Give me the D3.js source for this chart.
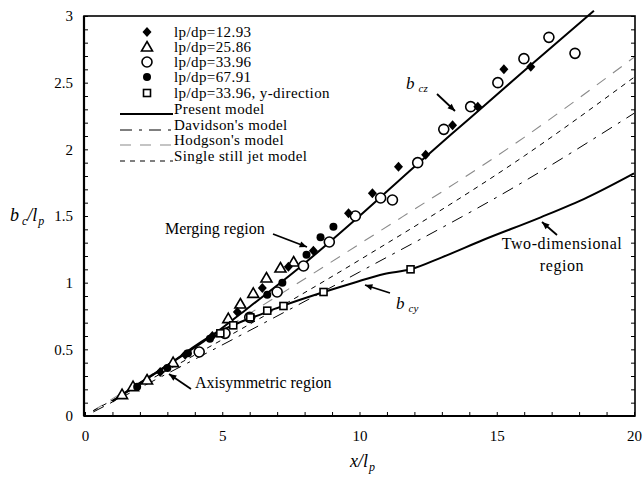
<!DOCTYPE html>
<html><head><meta charset="utf-8">
<script src="https://cdn.jsdelivr.net/npm/d3@7/dist/d3.min.js"></script>
<style>
body{margin:0;background:#fff;}
svg{display:block;}
text{font-family:"Liberation Serif","Times New Roman",serif;fill:#000;}
</style></head>
<body><svg id="c" width="644" height="478"></svg>
<script>
// ---- data ----
const xTickLabels = [0, 5, 10, 15, 20];
const yTickLabels = [0, 0.5, 1, 1.5, 2, 2.5, 3];

const s1293X = [2.74, 3.65, 4.64, 5.55, 6.46, 7.41, 8.32, 9.6, 10.47, 11.42, 12.41, 13.39, 14.31, 15.26, 16.24];
const s1293Y = [0.33, 0.46, 0.60, 0.78, 0.96, 1.12, 1.24, 1.52, 1.67, 1.87, 1.96, 2.18, 2.32, 2.60, 2.62];

const s2586X = [1.35, 1.75, 2.26, 3.21, 5.22, 5.66, 6.13, 6.61, 7.12, 7.6];
const s2586Y = [0.16, 0.22, 0.27, 0.40, 0.73, 0.84, 0.92, 1.035, 1.11, 1.155];

const s3396X = [4.16, 5.1, 6.0, 7.0, 7.96, 8.9, 9.85, 10.77, 11.2, 12.12, 13.07, 14.05, 15.04, 15.99, 16.9, 17.85];
const s3396Y = [0.48, 0.62, 0.74, 0.93, 1.125, 1.305, 1.50, 1.635, 1.62, 1.90, 2.15, 2.32, 2.50, 2.68, 2.84, 2.72];

const s6791X = [1.9, 3.0, 3.75, 4.55, 6.64, 7.19, 8.07, 8.58, 9.05];
const s6791Y = [0.22, 0.36, 0.47, 0.58, 0.91, 1.0, 1.21, 1.34, 1.42];

const sYdirX = [4.93, 5.4, 6.02, 6.64, 7.23, 8.69, 11.86];
const sYdirY = [0.62, 0.68, 0.74, 0.79, 0.825, 0.93, 1.10];

const bczX = [1.0, 1.35, 3.0, 4.67, 6.0, 7.85, 10, 12, 14, 16, 18.54];
const bczY = [0.11, 0.16, 0.38, 0.61, 0.82, 1.12, 1.50, 1.87, 2.23, 2.59, 3.04];

const bcyX = [1.0, 3.0, 4.67, 5.5, 6.5, 7.25, 8.7, 9.8, 10.9, 11.86, 13, 14.5, 16.6, 18.3, 20];
const bcyY = [0.11, 0.38, 0.61, 0.69, 0.77, 0.83, 0.93, 1.00, 1.065, 1.10, 1.19, 1.32, 1.49, 1.64, 1.82];

const davidsonX = [0.3, 10, 16, 20];
const davidsonY = [0.03, 1.08, 1.76, 2.27];
const hodgsonX = [0.3, 10, 16, 20];
const hodgsonY = [0.04, 1.29, 2.09, 2.69];
const stillJetX = [0.3, 10, 16, 20];
const stillJetY = [0.04, 1.17, 1.95, 2.54];

const legendLabels = ["lp/dp=12.93", "lp/dp=25.86", "lp/dp=33.96", "lp/dp=67.91",
  "lp/dp=33.96, y-direction", "Present model", "Davidson's model", "Hodgson's model", "Single still jet model"];

// ---- drawing ----
const svg = d3.select("#c");
svg.append("rect").attr("width", 644).attr("height", 478).attr("fill", "#fff");

const L = 84, R = 635, T = 16, B = 416;
const x = d3.scaleLinear().domain([0, 20]).range([L + 1, R - 1]);
const y = d3.scaleLinear().domain([0, 3]).range([B, T]);

const zip = (xs, ys) => xs.map((v, i) => [v, ys[i]]);
const line = d3.line().x(d => x(d[0])).y(d => y(d[1])).curve(d3.curveMonotoneX);

// axes (ticks inward)
const gx = svg.append("g").attr("transform", `translate(0,${B})`)
  .call(d3.axisBottom(x).tickValues(d3.range(0, 21, 1)).tickSizeInner(-4).tickSizeOuter(0).tickFormat(""));
const gxl = svg.append("g").attr("transform", `translate(0,${B})`)
  .call(d3.axisBottom(x).tickValues(xTickLabels).tickSize(0).tickPadding(14).tickFormat(d3.format("d")));
const gy = svg.append("g").attr("transform", `translate(${L},0)`)
  .call(d3.axisLeft(y).tickValues(d3.range(0, 31, 1).map(d => d / 10)).tickSizeInner(-4).tickSizeOuter(0).tickFormat(""));
const gyl = svg.append("g").attr("transform", `translate(${L},0)`)
  .call(d3.axisLeft(y).tickValues(yTickLabels).tickSize(0).tickPadding(11).tickFormat(d => d));
const gr = svg.append("g").attr("transform", `translate(${R},0)`)
  .call(d3.axisRight(y).tickValues(d3.range(0, 31, 1).map(d => d / 10)).tickSizeInner(-4).tickSizeOuter(0).tickFormat(""));
[gx, gxl, gy, gyl, gr].forEach(g => {
  g.select(".domain").remove();
  g.selectAll("line").attr("stroke", "#000").attr("stroke-width", 1);
  g.selectAll("text").attr("font-family", "Liberation Serif, Times New Roman, serif")
    .attr("font-size", 15).attr("fill", "#000");
});

// frame
svg.append("rect").attr("x", L).attr("y", T).attr("width", R - L).attr("height", B - T)
  .attr("fill", "none").attr("stroke", "#000").attr("stroke-width", 1.6);
svg.append("line").attr("x1", L).attr("x2", L).attr("y1", T).attr("y2", B).attr("stroke", "#000").attr("stroke-width", 2.2);
svg.append("line").attr("x1", L).attr("x2", R).attr("y1", B).attr("y2", B).attr("stroke", "#000").attr("stroke-width", 2);

// model lines
const styles = {
  present: {stroke: "#000", w: 2, dash: null},
  davidson: {stroke: "#000", w: 1, dash: "12,7,3,7"},
  hodgson: {stroke: "#8a8a8a", w: 1.1, dash: "11,9"},
  still: {stroke: "#000", w: 1, dash: "5,5"}
};
function drawLine(data, st) {
  const p = svg.append("path").attr("d", line(data)).attr("fill", "none")
    .attr("stroke", st.stroke).attr("stroke-width", st.w);
  if (st.dash) p.attr("stroke-dasharray", st.dash);
}
drawLine(zip(hodgsonX, hodgsonY), styles.hodgson);
drawLine(zip(stillJetX, stillJetY), styles.still);
drawLine(zip(davidsonX, davidsonY), styles.davidson);
drawLine(zip(bczX, bczY), styles.present);
drawLine(zip(bcyX, bcyY), styles.present);

// markers
const sym = {
  diamond: (g, cx, cy) => g.append("path").attr("d", `M${cx},${cy - 5}L${cx + 4.5},${cy}L${cx},${cy + 5}L${cx - 4.5},${cy}Z`).attr("fill", "#000"),
  triangle: (g, cx, cy) => g.append("path").attr("d", `M${cx},${cy - 5.5}L${cx + 5.5},${cy + 4}L${cx - 5.5},${cy + 4}Z`).attr("fill", "#fff").attr("stroke", "#000").attr("stroke-width", 1.6),
  circle: (g, cx, cy) => g.append("circle").attr("cx", cx).attr("cy", cy).attr("r", 5).attr("fill", "#fff").attr("stroke", "#000").attr("stroke-width", 1.6),
  dot: (g, cx, cy) => g.append("circle").attr("cx", cx).attr("cy", cy).attr("r", 4).attr("fill", "#000"),
  square: (g, cx, cy) => g.append("rect").attr("x", cx - 3.5).attr("y", cy - 3.5).attr("width", 7).attr("height", 7).attr("fill", "#fff").attr("stroke", "#000").attr("stroke-width", 1.6)
};
const mg = svg.append("g");
const series = [
  [s2586X, s2586Y, "triangle"],
  [s3396X, s3396Y, "circle"],
  [sYdirX, sYdirY, "square"],
  [s6791X, s6791Y, "dot"],
  [s1293X, s1293Y, "diamond"]
];
series.forEach(([xs, ys, k]) => zip(xs, ys).forEach(d => sym[k](mg, x(d[0]), y(d[1]))));

// legend
const lg = svg.append("g");
const legY = [32, 47, 62, 77, 93, 109, 125, 140, 156];
const legSym = ["diamond", "triangle", "circle", "dot", "square"];
legendLabels.forEach((t, i) => {
  lg.append("text").attr("x", 174).attr("y", legY[i] + 5).attr("font-size", 15)
    .attr("letter-spacing", 0.4).text(t);
  if (i < 5) sym[legSym[i]](lg, 147, legY[i]);
});
const legLines = [styles.present, styles.davidson, styles.hodgson, styles.still];
legLines.forEach((st, j) => {
  const yy = legY[5 + j] + 5;
  const p = lg.append("line").attr("x1", 120).attr("x2", 173).attr("y1", yy).attr("y2", yy)
    .attr("stroke", st.stroke).attr("stroke-width", st.w);
  if (st.dash) p.attr("stroke-dasharray", st.dash);
});

// axis titles
const yt = svg.append("text").attr("x", 10).attr("y", 221).attr("font-size", 18).attr("font-style", "italic");
yt.append("tspan").text("b");
yt.append("tspan").attr("font-size", 12).attr("dy", 4).attr("dx", 3).text("c");
yt.append("tspan").attr("dy", -4).text("/l");
yt.append("tspan").attr("font-size", 12).attr("dy", 4).attr("dx", 1).text("p");

const xt = svg.append("text").attr("x", 350).attr("y", 467).attr("font-size", 18).attr("font-style", "italic");
xt.append("tspan").text("x/l");
xt.append("tspan").attr("font-size", 12).attr("dy", 4).attr("dx", 1).text("p");

// annotations
function arrow(x1, y1, x2, y2) {
  svg.append("line").attr("x1", x1).attr("y1", y1).attr("x2", x2).attr("y2", y2)
    .attr("stroke", "#000").attr("stroke-width", 1.8);
  const a = Math.atan2(y2 - y1, x2 - x1), h = 8, w = 0.4;
  svg.append("path").attr("d", `M${x2},${y2}L${x2 - h * Math.cos(a - w)},${y2 - h * Math.sin(a - w)}L${x2 - h * Math.cos(a + w)},${y2 - h * Math.sin(a + w)}Z`).attr("fill", "#000");
}
svg.append("text").attr("x", 165).attr("y", 234).attr("font-size", 16).text("Merging region");
arrow(273, 234, 307, 247);
svg.append("text").attr("x", 195).attr("y", 388).attr("font-size", 16).text("Axisymmetric region");
arrow(191, 389, 169, 374);
svg.append("text").attr("x", 562).attr("y", 249).attr("font-size", 16).attr("letter-spacing", 0.6).attr("text-anchor", "middle").text("Two-dimensional");
svg.append("text").attr("x", 562).attr("y", 271).attr("font-size", 16).attr("letter-spacing", 0.6).attr("text-anchor", "middle").text("region");
arrow(557, 235, 542, 222);
const bcz = svg.append("text").attr("x", 406).attr("y", 89).attr("font-size", 17).attr("font-style", "italic");
bcz.append("tspan").text("b");
bcz.append("tspan").attr("font-size", 11).attr("dy", 3).attr("dx", 4).text("cz");
arrow(437, 94, 455, 111);
const bcy = svg.append("text").attr("x", 396).attr("y", 309).attr("font-size", 17).attr("font-style", "italic");
bcy.append("tspan").text("b");
bcy.append("tspan").attr("font-size", 11).attr("dy", 3).attr("dx", 4).text("cy");
arrow(390, 293, 365, 285);
</script></body></html>
